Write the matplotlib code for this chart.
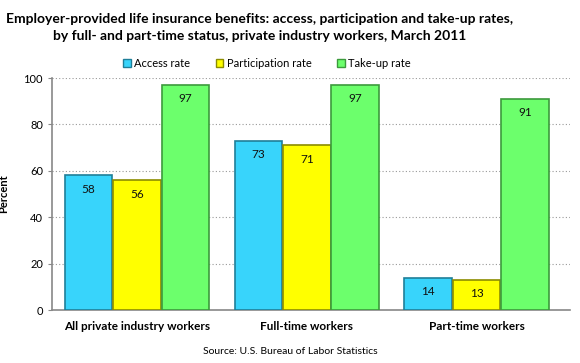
import matplotlib
matplotlib.use("Agg")
import matplotlib.pyplot as plt
import numpy as np
from matplotlib.patches import Patch

categories = ["All private industry workers", "Full-time workers", "Part-time workers"]
series_names = ["Access rate", "Participation rate", "Take-up rate"]
access = [58, 73, 14]
participation = [56, 71, 13]
takeup = [97, 97, 91]
yticks = [0, 20, 40, 60, 80, 100]

colors = ["#38d4fb", "#ffff00", "#6cff6c"]
edges = ["#1f7f99", "#8c8c00", "#3c9a3c"]

plt.rcParams['font.family'] = ['Lato', 'DejaVu Sans']

fig = plt.figure(figsize=(5.8, 3.63), dpi=100)
ax = fig.add_axes([0.0897, 0.146, 0.893, 0.639])

x = np.arange(len(categories))
w = 0.28
for i, (vals, c, e) in enumerate(zip([access, participation, takeup], colors, edges)):
    pos = x + (i - 1) * (w + 0.005)
    bars = ax.bar(pos, vals, width=w, color=c, edgecolor=e, linewidth=1.2, zorder=3)
    for b, v in zip(bars, vals):
        ax.text(b.get_x() + b.get_width() / 2, v - 6, f"{v}", ha="center", va="center",
                fontsize=8.5, color="#111111", zorder=4)

ax.set_xlim(-0.5, 2.55)
ax.set_ylim(0, 100)
ax.set_yticks(yticks)
ax.tick_params(axis="y", labelsize=8, length=3, color="#888888")
ax.tick_params(axis="x", length=0, pad=8)
ax.set_xticks(x)
ax.set_xticklabels(categories, fontsize=8.5, fontweight="bold")
ax.yaxis.grid(True, linestyle=(0, (1, 2)), color="#999999", linewidth=0.8, zorder=0)
for s in ["top", "right"]:
    ax.spines[s].set_visible(False)
for s in ["left", "bottom"]:
    ax.spines[s].set_color("#888888")
    ax.spines[s].set_linewidth(1.2)
ax.set_ylabel("Percent", fontsize=8, fontweight="bold", labelpad=10)

fig.text(0.448, 0.965, "Employer-provided life insurance benefits: access, participation and take-up rates,\nby full- and part-time status, private industry workers, March 2011",
         ha="center", va="top", fontsize=10, fontweight="bold", linespacing=1.5)

handles = [Patch(facecolor=c, edgecolor=e) for c, e in zip(colors, edges)]
fig.legend(handles, series_names, loc="center", bbox_to_anchor=(0.46, 0.826), ncol=3,
           frameon=False, fontsize=8, handlelength=0.7, handleheight=0.7,
           handletextpad=0.3, columnspacing=2.3)

fig.text(0.5, 0.02, "Source: U.S. Bureau of Labor Statistics", ha="center", va="bottom", fontsize=7.5)

fig.savefig("out.png", dpi=100)
